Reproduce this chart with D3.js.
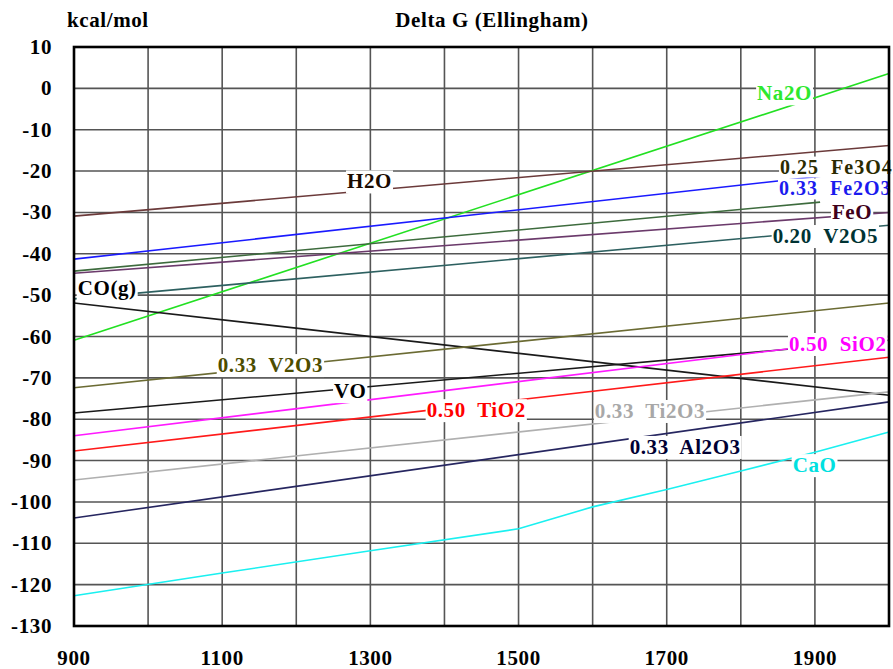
<!DOCTYPE html>
<html><head><meta charset="utf-8">
<script src="https://cdn.jsdelivr.net/npm/d3@7"></script>
<style>body{margin:0;background:#fff}svg{display:block}text{font-family:"Liberation Serif","Times New Roman",serif;font-weight:bold;letter-spacing:0.6px}</style>
</head><body><svg id="c" width="893" height="669"></svg>
<script>
// ---- data ----
const xTicks = [900, 1100, 1300, 1500, 1700, 1900];
const xGrid = [900,1000,1100,1200,1300,1400,1500,1600,1700,1800,1900,2000];
const yTicks = [10,0,-10,-20,-30,-40,-50,-60,-70,-80,-90,-100,-110,-120,-130];

const na2oT = [900, 2000],  na2oG = [-60.9, 3.6];
const h2oT = [900, 2000],   h2oG = [-30.9, -13.8];
const fe2o3T = [900, 2000], fe2o3G = [-41.3, -19.4];
const fe3o4T = [900, 1907], fe3o4G = [-44.2, -27.5];
const feoT = [900, 2000],   feoG = [-44.7, -30.0];
const v2o5T = [900, 2000],  v2o5G = [-50.9, -33.1];
const coT = [900, 2000],    coG = [-51.9, -74.2];
const v2o3T = [900, 2000],  v2o3G = [-72.4, -51.9];
const voT = [900, 2000],    voG = [-78.5, -60.9];
const sio2T = [900, 2000],  sio2G = [-84.0, -60.0];
const tio2T = [900, 2000],  tio2G = [-87.7, -65.0];
const ti2o3T = [900, 2000], ti2o3G = [-94.7, -73.4];
const al2o3T = [900, 2000], al2o3G = [-103.9, -75.8];
const caoT = [900, 1100, 1300, 1500, 1600, 1700, 1800, 1900, 2000];
const caoG = [-122.7, -117.2, -111.8, -106.5, -101.2, -97.0, -92.5, -88.0, -83.1];

const series = [
  {T: na2oT, G: na2oG, color: "#22e022"},
  {T: h2oT, G: h2oG, color: "#6b3a3a"},
  {T: fe2o3T, G: fe2o3G, color: "#1a1aff"},
  {T: fe3o4T, G: fe3o4G, color: "#3d6b3d"},
  {T: feoT, G: feoG, color: "#6b3a6b"},
  {T: v2o5T, G: v2o5G, color: "#2d6060"},
  {T: coT, G: coG, color: "#1a1a1a"},
  {T: v2o3T, G: v2o3G, color: "#6b6b33"},
  {T: voT, G: voG, color: "#1a1a1a"},
  {T: sio2T, G: sio2G, color: "#ff1aff"},
  {T: tio2T, G: tio2G, color: "#ff1a1a"},
  {T: ti2o3T, G: ti2o3G, color: "#b0b0b0"},
  {T: al2o3T, G: al2o3G, color: "#262660"},
  {T: caoT, G: caoG, color: "#1af0f0"}
];

const labelText = ["Na2O","0.25  Fe3O4","0.33  Fe2O3","FeO","0.20  V2O5","H2O","CO(g)","0.33  V2O3","VO","0.50  TiO2","0.33  Ti2O3","0.33  Al2O3","CaO","0.50  SiO2"];
const labelT = [1822, 1853, 1851.5, 1923, 1843, 1268.5, 905, 1094, 1251, 1376, 1603, 1650, 1870, 1865];
const labelG = [-2.9, -20.6, -25.9, -31.6, -37.4, -24.2, -50.0, -68.6, -74.9, -79.5, -79.7, -88.4, -92.8, -63.5];
const labelSize = [21, 20, 20, 21, 21, 21, 21, 21, 21, 21, 21, 21, 21, 21];
const labelColor = ["#2ee82e","#2b2b00","#1a1aee","#40001a","#003333","#1a0a00","#000000","#4d4d00","#000000","#ff0000","#a8a8a8","#000033","#00e0e0","#ff00ff"];

// ---- chart ----
const svg = d3.select("#c");
const x = d3.scaleLinear().domain([900, 2000]).range([74, 889]);
const y = d3.scaleLinear().domain([-130, 10]).range([626, 47]);

const grid = svg.append("g");
grid.selectAll("line.v").data(xGrid).join("line")
  .attr("x1", d => x(d)).attr("x2", d => x(d)).attr("y1", y(10)).attr("y2", y(-130))
  .attr("stroke", "#555").attr("stroke-width", 1.6);
grid.selectAll("line.h").data(yTicks).join("line")
  .attr("y1", d => y(d)).attr("y2", d => y(d)).attr("x1", x(900)).attr("x2", x(2000))
  .attr("stroke", "#555").attr("stroke-width", 1.6);

const line = d3.line().x(d => x(d[0])).y(d => y(d[1]));
svg.append("g").selectAll("path").data(series).join("path")
  .attr("d", s => line(s.T.map((t, i) => [t, s.G[i]])))
  .attr("fill", "none").attr("stroke", s => s.color).attr("stroke-width", 1.6);

const lg = svg.append("g");
labelText.forEach((t, i) => {
  const g = lg.append("g");
  const r = g.append("rect").attr("fill", "#fff");
  const tx = g.append("text").attr("x", x(labelT[i])).attr("y", y(labelG[i]))
    .attr("font-size", labelSize[i]).attr("fill", labelColor[i])
    .style("letter-spacing", labelSize[i] === 20 ? "1px" : null)
    .style("white-space", "pre").text(t);
  const b = tx.node().getBBox();
  r.attr("x", b.x - 1).attr("y", b.y + 1).attr("width", b.width + 2).attr("height", b.height - 1);
});

// border
svg.append("rect").attr("x", x(900)).attr("y", y(10)).attr("width", x(2000) - x(900)).attr("height", y(-130) - y(10))
  .attr("fill", "none").attr("stroke", "#000").attr("stroke-width", 2.6);

// axis tick labels
svg.append("g").selectAll("text").data(yTicks).join("text")
  .attr("x", 52).attr("y", d => y(d) + 7).attr("text-anchor", "end")
  .attr("font-size", 21).attr("fill", "#000").text(d => d);
svg.append("g").selectAll("text").data(xTicks).join("text")
  .attr("x", d => x(d)).attr("y", 665).attr("text-anchor", "middle")
  .attr("font-size", 21).attr("fill", "#000").text(d => d);

svg.append("text").attr("x", 67).attr("y", 27).attr("font-size", 21).text("kcal/mol");
svg.append("text").attr("x", 492).attr("y", 27).attr("text-anchor", "middle").attr("font-size", 21).text("Delta G (Ellingham)");
</script></body></html>
